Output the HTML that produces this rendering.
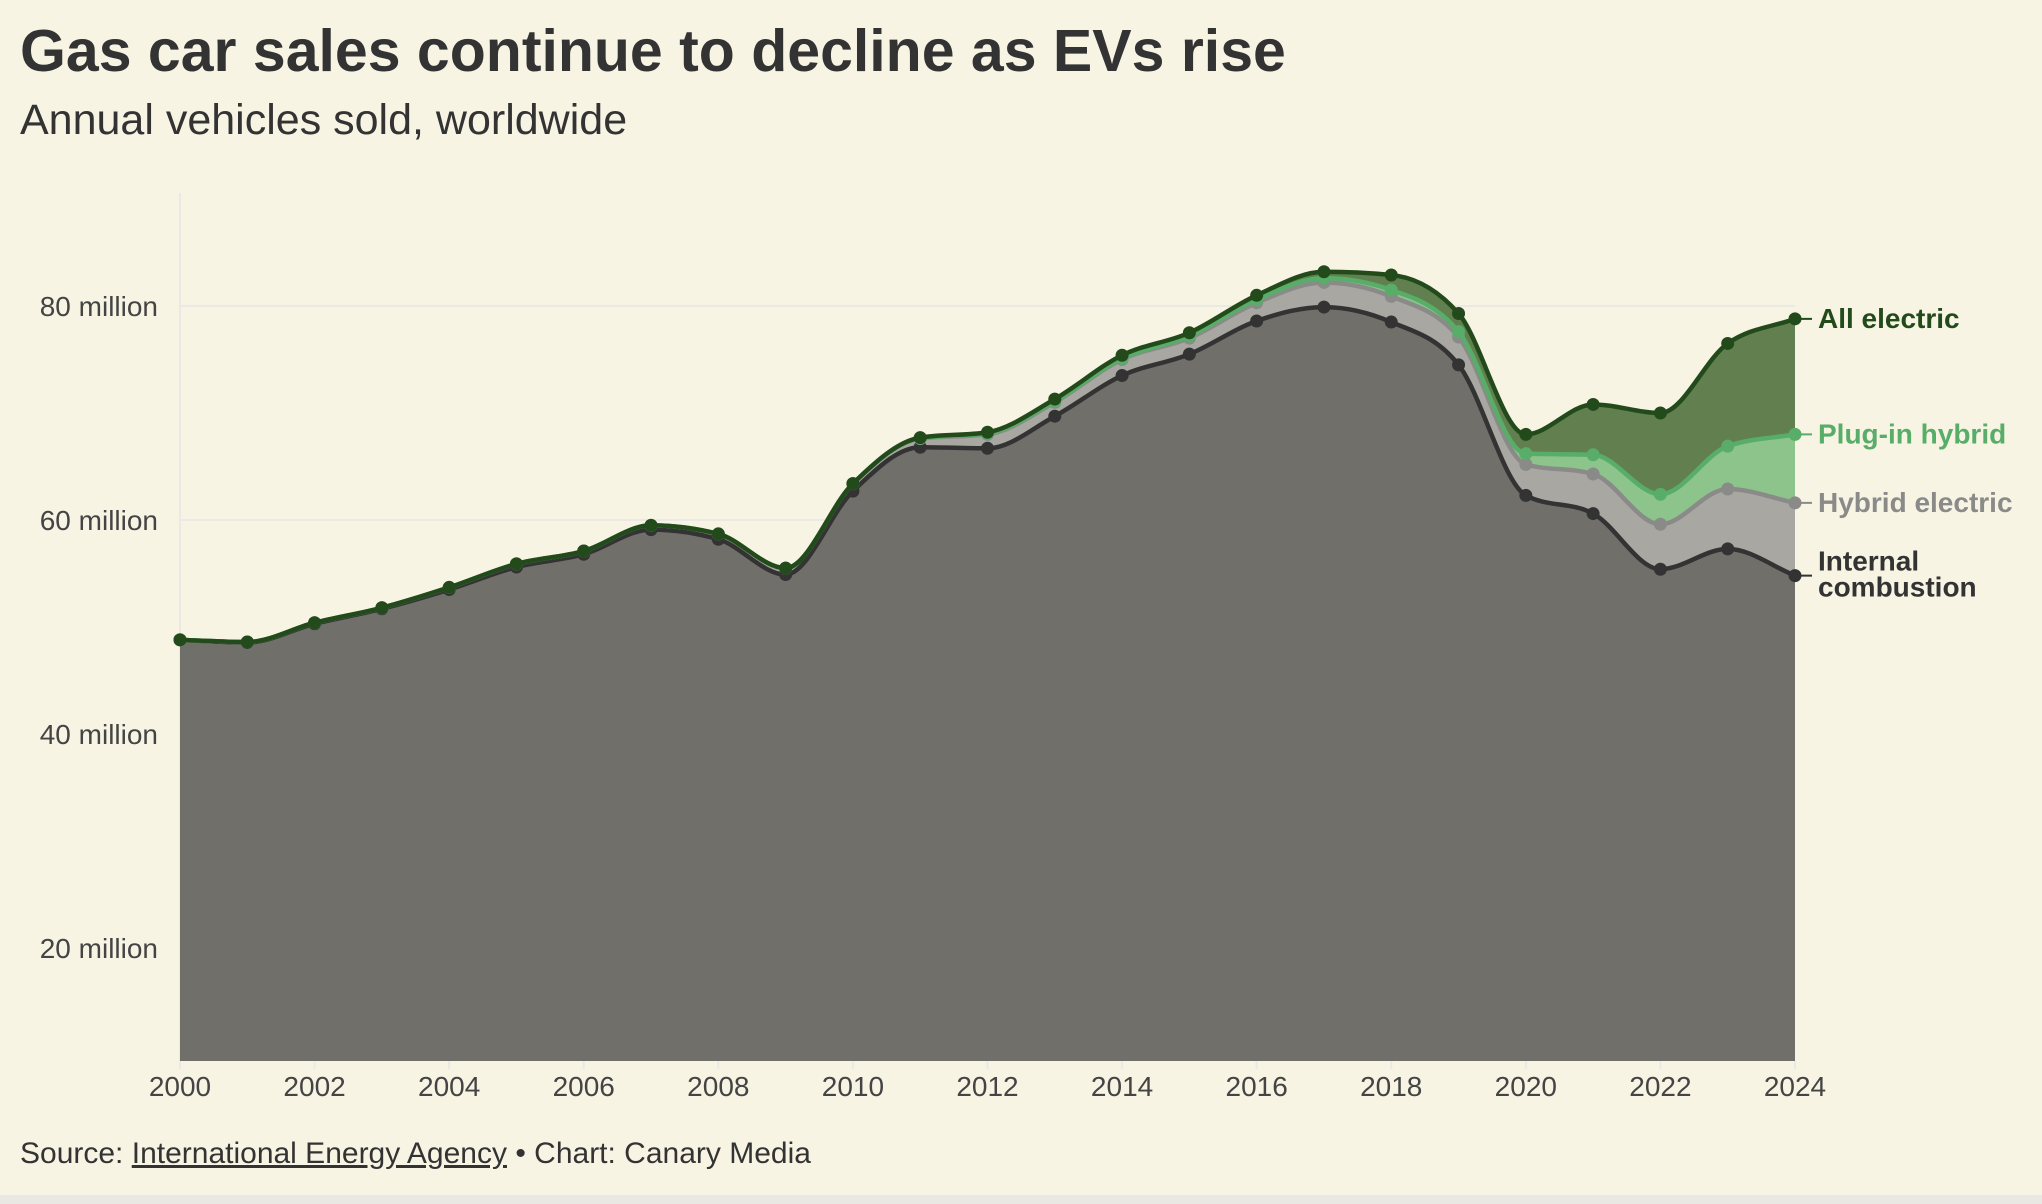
<!DOCTYPE html>
<html><head><meta charset="utf-8">
<style>
html,body{margin:0;padding:0;}
body{width:2042px;height:1204px;background:#f7f4e4;font-family:"Liberation Sans",sans-serif;overflow:hidden;position:relative;}
#title{position:absolute;left:20px;top:17px;font-size:59px;font-weight:bold;color:#333;letter-spacing:0px;}
#subtitle{position:absolute;left:20px;top:96px;font-size:43px;color:#333;}
#source{position:absolute;left:20px;top:1137px;font-size:30px;color:#333;}
#source u{text-decoration:underline;}
#bottombar{position:absolute;left:0;top:1195px;width:2042px;height:9px;background:#e9e8e2;}
svg{position:absolute;left:0;top:0;}
</style></head>
<body>
<div id="title">Gas car sales continue to decline as EVs rise</div>
<div id="subtitle">Annual vehicles sold, worldwide</div>
<svg id="chart" width="2042" height="1204"></svg>
<div id="source">Source: <u>International Energy Agency</u> • Chart: Canary Media</div>
<div id="bottombar"></div>
<script>
const years = [2000,2001,2002,2003,2004,2005,2006,2007,2008,2009,2010,2011,2012,2013,2014,2015,2016,2017,2018,2019,2020,2021,2022,2023,2024];
const iceValues = [48.8,48.55,50.3,51.7,53.5,55.6,56.8,59.1,58.2,54.9,62.7,66.8,66.7,69.7,73.5,75.5,78.6,79.9,78.5,74.5,62.3,60.6,55.4,57.3,54.8];
const hybridValues = [0,0.05,0.1,0.1,0.2,0.3,0.3,0.4,0.5,0.6,0.7,0.8,1.3,1.3,1.5,1.5,1.7,2.3,2.4,2.6,2.9,3.7,4.2,5.6,6.8];
const phevValues = [0,0,0,0,0,0,0,0,0,0,0,0.05,0.1,0.1,0.1,0.2,0.3,0.4,0.6,0.5,1.0,1.8,2.8,4.0,6.4];
const bevValues = [0,0,0,0,0,0,0,0,0,0,0,0.05,0.1,0.2,0.3,0.3,0.4,0.6,1.4,1.7,1.8,4.7,7.6,9.6,10.8];
const yTicks = [20,40,60,80];
const xTicks = [2000,2002,2004,2006,2008,2010,2012,2014,2016,2018,2020,2022,2024];

const NS="http://www.w3.org/2000/svg";
const svg=document.getElementById('chart');
const X0=180,X1=1795,YB=1061;
function x(yr){return X0+(yr-2000)*(X1-X0)/24;}
function y(v){return 306+(80-v)*10.7;}
function mk(tag,attrs,parent){const e=document.createElementNS(NS,tag);for(const k in attrs)e.setAttribute(k,attrs[k]);(parent||svg).appendChild(e);return e;}

mk('line',{x1:X0,x2:X0,y1:193,y2:YB,stroke:'#ebe9e6','stroke-width':2});
yTicks.forEach(t=>{
  const g=mk('line',{x1:X0,x2:X1,y1:y(t),y2:y(t),stroke:'#ebe9e6','stroke-width':2});
  
  
  const tx=mk('text',{x:158,y:y(t)+10,'text-anchor':'end','font-size':28,fill:'#444'});
  tx.textContent=t+' million';
  
  
});

function monoPath(xs,ys,move){
  const n=xs.length;const d=[],m=[];
  for(let i=0;i<n-1;i++)d.push((ys[i+1]-ys[i])/(xs[i+1]-xs[i]));
  for(let i=0;i<n;i++){
    if(i===0)m.push(d[0]);else if(i===n-1)m.push(d[n-2]);
    else{ if(d[i-1]*d[i]<=0)m.push(0);else{const h0=xs[i]-xs[i-1],h1=xs[i+1]-xs[i];const p=(d[i-1]*h1+d[i]*h0)/(h0+h1);const lim=2*Math.min(Math.abs(d[i-1]),Math.abs(d[i]));m.push(Math.abs(p)>lim?Math.sign(p)*lim:p);}}
  }
  let s=(move?'M':'L')+xs[0]+','+ys[0];
  for(let i=0;i<n-1;i++){const h=(xs[i+1]-xs[i])/3;s+=' C'+(xs[i]+h)+','+(ys[i]+m[i]*h)+' '+(xs[i+1]-h)+','+(ys[i+1]-m[i+1]*h)+' '+xs[i+1]+','+ys[i+1];}
  return s;
}
const c1=iceValues.slice();
const c2=c1.map((v,i)=>v+hybridValues[i]);
const c3=c2.map((v,i)=>v+phevValues[i]);
const c4=c3.map((v,i)=>v+bevValues[i]);
const xs=years.map(x);
const layers=[
 {top:c4,bot:c3,fill:'#62804f',line:'#234a1b',name:'all-electric',label:['All electric']},
 {top:c3,bot:c2,fill:'#8cc48c',line:'#58ad68',name:'plug-in-hybrid',label:['Plug-in hybrid']},
 {top:c2,bot:c1,fill:'#a8a7a2',line:'#8a8a89',name:'hybrid-electric',label:['Hybrid electric']},
 {top:c1,bot:null,fill:'#706f6a',line:'#333333',name:'internal-combustion',label:['Internal','combustion']}
];
layers.forEach(L=>{
  const ty=L.top.map(y);
  let dpath=monoPath(xs,ty,true);
  if(L.bot){const by=L.bot.map(y).slice().reverse();dpath+=' '+monoPath(xs.slice().reverse(),by,false)+' Z';}
  else dpath+=' L'+X1+','+YB+' L'+X0+','+YB+' Z';
  const a=mk('path',{d:dpath,fill:L.fill});
  
  
});
layers.slice().reverse().forEach(L=>{
  const ty=L.top.map(y);
  const p=mk('path',{d:monoPath(xs,ty,true),fill:'none',stroke:L.line,'stroke-width':4.5});
  
  
  ty.forEach((yy,i)=>{
    const c=mk('circle',{cx:xs[i],cy:yy,r:6.5,fill:L.line});
    
    
  });
  const ly=ty[ty.length-1];
  mk('line',{x1:X1,x2:1812,y1:ly,y2:ly,stroke:L.line,'stroke-width':2});
  const t=mk('text',{x:1818,y:ly+9,'font-size':28,'font-weight':'bold',fill:L.line});
  
  
  L.label.forEach((s,k)=>{const ts=mk('tspan',{x:1818,dy:k?26:0},t);ts.textContent=s;});
  if(L.label.length>1)t.setAttribute('y',ly-5);
});
xTicks.forEach(t=>{
  mk('line',{x1:x(t),x2:x(t),y1:YB,y2:YB+8,stroke:'#ebe9e6','stroke-width':2});
  const tx=mk('text',{x:x(t),y:1096,'text-anchor':'middle','font-size':28,fill:'#444'});
  tx.textContent=t;
  
  
});
</script>
</body></html>
